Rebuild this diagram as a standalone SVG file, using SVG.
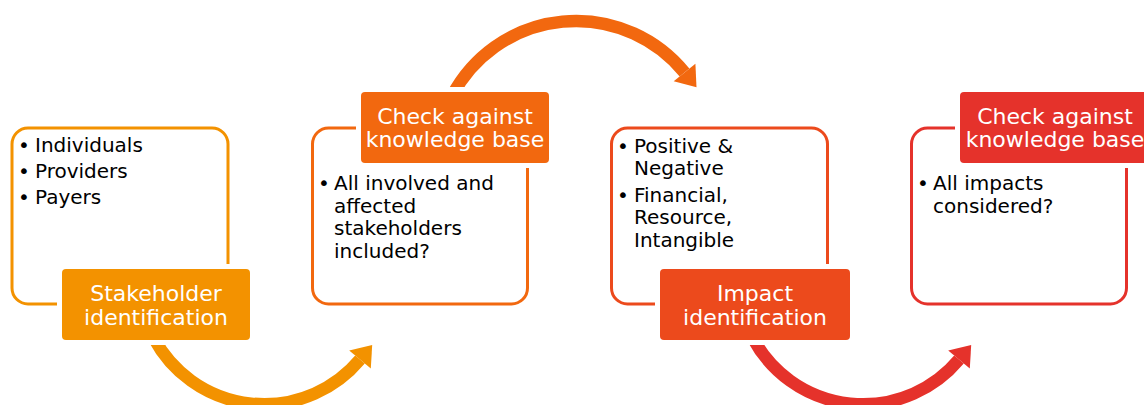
<svg xmlns="http://www.w3.org/2000/svg" width="1144" height="405" viewBox="0 0 1144 405">
  <style>
    .frame { fill: #ffffff; stroke-width: 3; }
    .gap { fill: #ffffff; }
    .body { font-family: "DejaVu Sans", Verdana, sans-serif; font-size: 20px; fill: #000000; }
    .title { font-family: "DejaVu Sans", Verdana, sans-serif; font-size: 22px; fill: #ffffff; text-anchor: middle; }
    .arc { fill: none; stroke-width: 12.5; stroke-linecap: butt; }
    .c1 { stroke: #F39200; } .f1 { fill: #F39200; }
    .c2 { stroke: #F2680F; } .f2 { fill: #F2680F; }
    .c3 { stroke: #EC4A1C; } .f3 { fill: #EC4A1C; }
    .c4 { stroke: #E5322B; } .f4 { fill: #E5322B; }
  </style>

  <!-- curved arrows between the steps -->
  <g id="connectors">
    <path class="arc c1" d="M153.8,338 A125,125 0 0 0 360,359.5"/>
    <polygon class="f1" points="372.2,344.9 370.8,368.5 349.2,350.5"/>
    <path class="arc c2" d="M452.5,95 A140,140 0 0 1 684.5,72.5"/>
    <polygon class="f2" points="696.5,87.2 695.4,63.7 673.7,81.3"/>
    <g transform="translate(599,0)">
      <path class="arc c4" d="M153.8,338 A125,125 0 0 0 360,359.5"/>
      <polygon class="f4" points="372.2,344.9 370.8,368.5 349.2,350.5"/>
    </g>
  </g>

  <!-- step 1: stakeholder identification -->
  <g id="step-stakeholder">
    <rect class="frame c1" x="12" y="128" width="216" height="176" rx="16"/>
    <text class="body">
      <tspan x="18" y="152">•</tspan><tspan x="35" y="152">Individuals</tspan>
      <tspan x="18" y="178">•</tspan><tspan x="35" y="178">Providers</tspan>
      <tspan x="18" y="204">•</tspan><tspan x="35" y="204">Payers</tspan>
    </text>
    <rect class="gap" x="57" y="264" width="198" height="81" rx="7"/>
    <rect class="f1" x="62" y="269" width="188" height="71" rx="4"/>
    <text class="title"><tspan x="156" y="301">Stakeholder</tspan><tspan x="156" y="324.5">identification</tspan></text>
  </g>

  <!-- step 2: check stakeholders -->
  <g id="step-check-stakeholders">
    <rect class="frame c2" x="312.5" y="128" width="215" height="176" rx="16"/>
    <text class="body">
      <tspan x="318" y="190">•</tspan><tspan x="334" y="190">All involved and</tspan>
      <tspan x="334" y="212.5">affected</tspan>
      <tspan x="334" y="235">stakeholders</tspan>
      <tspan x="334" y="257.5">included?</tspan>
    </text>
    <rect class="gap" x="356" y="87" width="198" height="81" rx="7"/>
    <rect class="f2" x="361" y="92" width="188" height="71" rx="4"/>
    <text class="title"><tspan x="455" y="123.5">Check against</tspan><tspan x="455" y="147">knowledge base</tspan></text>
  </g>

  <!-- step 3: impact identification -->
  <g id="step-impact">
    <rect class="frame c3" x="611.5" y="128" width="216" height="176" rx="16"/>
    <text class="body">
      <tspan x="617" y="152.5">•</tspan><tspan x="634" y="152.5">Positive &amp;</tspan>
      <tspan x="634" y="175">Negative</tspan>
      <tspan x="617" y="201.5">•</tspan><tspan x="634" y="201.5">Financial,</tspan>
      <tspan x="634" y="224">Resource,</tspan>
      <tspan x="634" y="246.5">Intangible</tspan>
    </text>
    <rect class="gap" x="655" y="264" width="200" height="81" rx="7"/>
    <rect class="f3" x="660" y="269" width="190" height="71" rx="4"/>
    <text class="title"><tspan x="755" y="301">Impact</tspan><tspan x="755" y="324.5">identification</tspan></text>
  </g>

  <!-- step 4: check impacts -->
  <g id="step-check-impacts">
    <rect class="frame c4" x="911.5" y="128" width="215" height="176" rx="16"/>
    <text class="body">
      <tspan x="917" y="190">•</tspan><tspan x="933" y="190">All impacts</tspan>
      <tspan x="933" y="212.5">considered?</tspan>
    </text>
    <rect class="gap" x="955" y="87" width="200" height="81" rx="7"/>
    <rect class="f4" x="960" y="92" width="190" height="71" rx="4"/>
    <text class="title"><tspan x="1055" y="123.5">Check against</tspan><tspan x="1055" y="147">knowledge base</tspan></text>
  </g>
</svg>
